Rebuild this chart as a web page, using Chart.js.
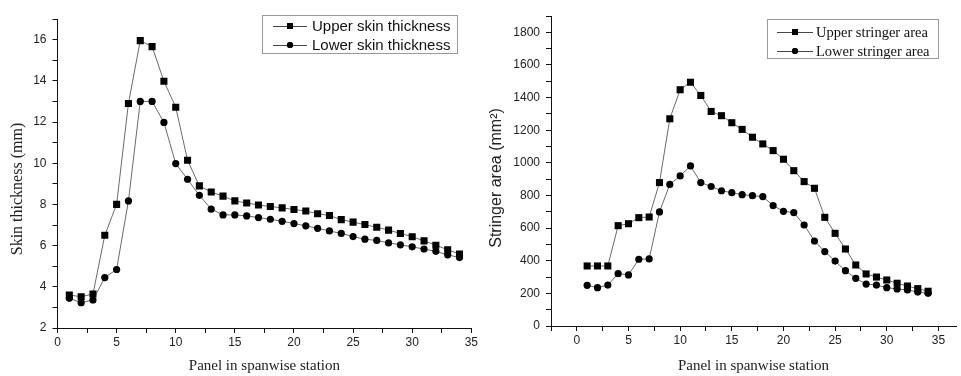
<!DOCTYPE html>
<html>
<head>
<meta charset="utf-8">
<script src="https://cdn.jsdelivr.net/npm/chart.js@4/dist/chart.umd.min.js"></script>
<style>
  body { margin: 0; background: #fff; }
  .wrap { position: relative; width: 961px; height: 376px; overflow: hidden; }
  #skinChart { position: absolute; left: 0; top: 0; }
  #stringerChart { position: absolute; left: 480px; top: 0; }
</style>
</head>
<body>
<div class="wrap">
  <canvas id="skinChart" width="480" height="376"></canvas>
  <canvas id="stringerChart" width="481" height="376"></canvas>
</div>
<script>
// panel numbers 1..34
var panels = [1,2,3,4,5,6,7,8,9,10,11,12,13,14,15,16,17,18,19,20,21,22,23,24,25,26,27,28,29,30,31,32,33,34];

var upperSkin = [3.60,3.52,3.65,6.50,8.00,12.90,15.95,15.66,13.98,12.72,10.14,8.90,8.60,8.40,8.17,8.07,7.97,7.90,7.83,7.75,7.68,7.55,7.46,7.26,7.14,7.02,6.89,6.75,6.59,6.43,6.23,6.02,5.80,5.59];
var lowerSkin = [3.44,3.23,3.36,4.45,4.84,8.17,13.00,13.00,11.98,9.98,9.22,8.44,7.77,7.49,7.49,7.44,7.36,7.28,7.18,7.07,6.96,6.84,6.71,6.59,6.44,6.31,6.25,6.13,6.04,5.94,5.83,5.72,5.55,5.42];

var upperStringer = [368,368,368,615,627,664,668,879,1270,1448,1494,1413,1315,1289,1246,1205,1157,1116,1075,1022,952,885,844,666,568,472,374,319,300,282,262,245,229,213];
var lowerStringer = [249,235,251,321,313,409,411,699,868,920,981,879,855,829,817,805,799,793,738,703,695,619,521,456,398,339,292,257,251,235,227,221,208,200];

var skinLabels = ["Upper skin thickness", "Lower skin thickness"];
var stringerLabels = ["Upper stringer area", "Lower stringer area"];

function toPoints(xs, ys) {
    var pts = [];
    for (var i = 0; i < xs.length; i++) pts.push({x: xs[i], y: ys[i]});
    return pts;
}

// legend with a frame, drawn from the dataset labels and point styles
var boxLegend = {
    id: "boxLegend",
    afterDraw: function(chart, args, opts) {
        var ctx = chart.ctx;
        ctx.save();
        ctx.strokeStyle = "#9a9a9a";
        ctx.lineWidth = 1;
        ctx.strokeRect(opts.x + 0.5, opts.y + 0.5, opts.w, opts.h);
        ctx.font = opts.font;
        ctx.textBaseline = "middle";
        chart.data.datasets.forEach(function(ds, i) {
            var y = opts.rowY[i];
            ctx.strokeStyle = "#444";
            ctx.beginPath();
            ctx.moveTo(opts.lineX0, y + 0.5);
            ctx.lineTo(opts.lineX1, y + 0.5);
            ctx.stroke();
            ctx.fillStyle = "#000";
            Chart.helpers.drawPoint(ctx, {pointStyle: ds.pointStyle, radius: ds.pointRadius * 0.85, rotation: 0, borderWidth: 0},
                (opts.lineX0 + opts.lineX1) / 2, y);
            ctx.fill();
            ctx.fillStyle = "#111";
            ctx.fillText(ds.label, opts.textX, y + 1);
        });
        ctx.restore();
    }
};

// rotated y axis title, placed a bit below the plot centre like the original
var yTitle = {
    id: "yTitle",
    afterDraw: function(chart, args, opts) {
        var ctx = chart.ctx;
        ctx.save();
        ctx.translate(opts.x, opts.cy);
        ctx.rotate(-Math.PI / 2);
        ctx.font = opts.font;
        ctx.fillStyle = "#222";
        ctx.textAlign = "center";
        ctx.textBaseline = "middle";
        ctx.fillText(opts.text, 0, 0);
        ctx.restore();
    }
};

function makeAxis(min, max, step, major, extra) {
    var axis = {
        type: "linear",
        min: min,
        max: max,
        border: {display: true, color: "#111", width: 1},
        grid: {drawOnChartArea: false, drawTicks: true, tickLength: 5, color: "#111", tickColor: "#111"},
        ticks: {
            stepSize: step,
            autoSkip: false,
            includeBounds: false,
            maxRotation: 0,
            color: "#222",
            font: {family: "Liberation Sans", size: 12},
            callback: function(v) {
                return (Math.abs(v / major - Math.round(v / major)) < 1e-6) ? String(Math.round(v)) : "";
            }
        },
        afterBuildTicks: function(scale) {
            scale.ticks = scale.ticks.filter(function(t) {
                return Math.abs(t.value / step - Math.round(t.value / step)) < 1e-6;
            });
        }
    };
    for (var k in extra) axis[k] = extra[k];
    return axis;
}

function seriesSet(label, data, style, r) {
    return {
        label: label,
        data: data,
        borderColor: "#6a6a6a",
        borderWidth: 1,
        pointStyle: style,
        pointRadius: r,
        pointHoverRadius: r,
        pointBackgroundColor: "#000",
        pointBorderColor: "#000",
        pointBorderWidth: 0,
        tension: 0
    };
}

// left chart: skin thickness
var xSkin = makeAxis(0, 35, 2.5, 5, {
    position: "bottom",
    title: {display: true, text: "Panel in spanwise station", color: "#222",
            font: {family: "Liberation Serif", size: 15}, padding: {top: 0, bottom: 1}},
    afterFit: function(s) { s.height = 48; }
});
xSkin.ticks.padding = 2;
var ySkin = makeAxis(2, 17, 1, 2, {
    position: "left",
    afterFit: function(s) { s.width = 57.5; }
});
ySkin.ticks.padding = 6;

new Chart(document.getElementById("skinChart"), {
    type: "line",
    data: {
        datasets: [
            seriesSet(skinLabels[0], toPoints(panels, upperSkin), "rect", 5),
            seriesSet(skinLabels[1], toPoints(panels, lowerSkin), "circle", 3.6)
        ]
    },
    options: {
        responsive: false,
        animation: false,
        layout: {padding: {top: 19, right: 8, left: 0, bottom: 0}},
        scales: {x: xSkin, y: ySkin},
        plugins: {
            legend: {display: false},
            tooltip: {enabled: false},
            boxLegend: {x: 262, y: 15, w: 195, h: 38, rowY: [26, 45], lineX0: 273, lineX1: 307, textX: 312,
                        font: "15px 'Liberation Sans'"},
            yTitle: {text: "Skin thickness (mm)", font: "16px 'Liberation Serif'", x: 18, cy: 189}
        }
    },
    plugins: [boxLegend, yTitle]
});

// right chart: stringer area
var xStr = makeAxis(-2.5, 36.7, 2.5, 5, {
    position: "bottom",
    title: {display: true, text: "Panel in spanwise station", color: "#222",
            font: {family: "Liberation Serif", size: 15}, padding: {top: 0, bottom: 1}},
    afterFit: function(s) { s.height = 50; }
});
xStr.ticks.padding = 2;
var yStr = makeAxis(0, 1900, 100, 200, {
    position: "left",
    afterFit: function(s) { s.width = 71; }
});
yStr.ticks.padding = 6;

new Chart(document.getElementById("stringerChart"), {
    type: "line",
    data: {
        datasets: [
            seriesSet(stringerLabels[0], toPoints(panels, upperStringer), "rect", 5),
            seriesSet(stringerLabels[1], toPoints(panels, lowerStringer), "circle", 3.6)
        ]
    },
    options: {
        responsive: false,
        animation: false,
        layout: {padding: {top: 16, right: 0, left: 0, bottom: 0}},
        scales: {x: xStr, y: yStr},
        plugins: {
            legend: {display: false},
            tooltip: {enabled: false},
            boxLegend: {x: 287, y: 19, w: 171, h: 39, rowY: [32, 51], lineX0: 297, lineX1: 333, textX: 336,
                        font: "14.5px 'Liberation Serif'"},
            yTitle: {text: "Stringer area (mm\u00b2)", font: "16px 'Liberation Sans'", x: 17, cy: 178}
        }
    },
    plugins: [boxLegend, yTitle]
});
</script>
</body>
</html>
